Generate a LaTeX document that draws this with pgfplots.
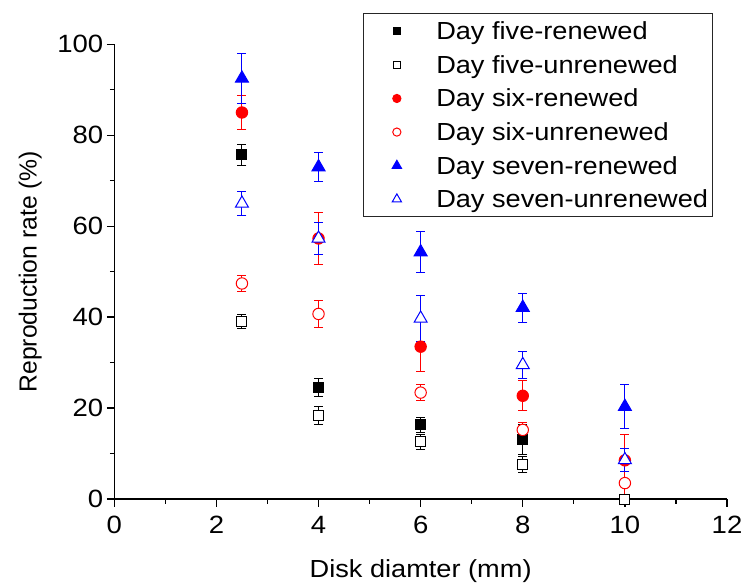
\documentclass[border=0pt]{standalone}
\usepackage{fontspec}
\setmainfont{Liberation Sans}[FakeStretch=1.1]
\newfontfamily\plainsans{Liberation Sans}
\usepackage{pgfplots}
\pgfplotsset{compat=1.18}
\pgfplotsset{
  eb/.style={error bars/.cd, y dir=both, y explicit,
    error bar style={line width=0.9pt},
    error mark options={rotate=90, mark size=4.5pt, line width=0.9pt}},
}
\begin{document}
\begin{tikzpicture}
\begin{axis}[
  scale only axis, width=612.7pt, height=454.7pt,
  xmin=0, xmax=12, ymin=0, ymax=100,
  axis x line*=bottom, axis y line*=left,
  axis line style={line width=1.5pt, black},
  xtick={0,2,...,12}, ytick={0,20,...,100},
  minor x tick num=1, minor y tick num=1,
  tick align=outside,
  major tick length=7.5pt, minor tick length=4.5pt,
  tick style={black, line width=1.3pt},
  /pgf/number format/assume math mode=true,
  tick label style={font=\fontsize{25}{30}\selectfont},
  xticklabel style={yshift=-6pt},
  xlabel={Disk diamter (mm)}, ylabel={Reproduction rate (\%)},
  xlabel style={font=\fontsize{24.7}{30}\selectfont, at={(axis description cs:0.5,-0.173)}, anchor=base},
  ylabel style={font=\plainsans\fontsize{24.7}{30}\selectfont, at={(axis description cs:-0.137,0.5)}, anchor=center},
  legend style={at={(axis description cs:0.406,1.068)}, anchor=north west,
    draw=black!85, line width=0.8pt, fill=white,
    inner xsep=4pt, inner ysep=6pt, row sep=10.6pt, column sep=34pt,
    nodes={inner sep=0pt, text height=20pt, text depth=3pt, font=\fontsize{24.7}{30}\selectfont}},
  legend cell align=left,
  legend image code/.code={\path (-29pt,0pt) (5pt,0pt); \draw[#1, every mark/.append style={scale=0.72}] plot coordinates {(0pt,0pt)};},
]
\addplot[only marks, black, mark=square*, mark size=5pt, mark options={solid, line width=1pt}, eb]
  table[x=x, y=y, y error=e] {
x y e
2.5 75.7 2.3
4 24.5 2.0
6 16.3 1.6
8 13.0 3.3
10 0 0
};
\addlegendentry{Day five-renewed}
\addplot[only marks, black, mark=square*, mark size=5pt, mark options={solid, fill=white, line width=1pt}, eb]
  table[x=x, y=y, y error=e] {
x y e
2.5 39.1 1.5
4 18.3 2.0
6 12.6 1.7
8 7.6 1.8
10 0 0
};
\addlegendentry{Day five-unrenewed}
\addplot[only marks, red, mark=*, mark size=5.7pt, mark options={solid, line width=1pt}, eb]
  table[x=x, y=y, y error=e] {
x y e
2.5 85.0 3.8
4 57.3 5.7
6 33.5 5.5
8 22.7 3.3
10 8.5 5.7
};
\addlegendentry{Day six-renewed}
\addplot[only marks, red, mark=*, mark size=5.7pt, mark options={solid, fill=white, line width=1pt}, eb]
  table[x=x, y=y, y error=e] {
x y e
2.5 47.4 1.7
4 40.7 3.0
6 23.4 1.8
8 15.2 1.7
10 3.5 2.6
};
\addlegendentry{Day six-unrenewed}
\addplot[only marks, blue, mark=triangle*, mark size=7.5pt, mark options={solid, line width=1pt}, eb]
  table[x=x, y=y, y error=e] {
x y e
2.5 92.5 5.5
4 73.0 3.2
6 54.3 4.5
8 42.1 3.2
10 20.3 4.8
};
\addlegendentry{Day seven-renewed}
\addplot[only marks, blue, mark=triangle*, mark size=7.5pt, mark options={solid, fill=white, line width=1pt}, eb]
  table[x=x, y=y, y error=e] {
x y e
2.5 65.0 2.6
4 57.3 3.6
6 39.7 5.0
8 29.5 2.9
10 8.6 2.5
};
\addlegendentry{Day seven-unrenewed}
\coordinate (sw) at (rel axis cs:0,0);
\coordinate (ne) at (rel axis cs:1,1);
\end{axis}
\path ([xshift=-114.3pt,yshift=-87pt]sw) rectangle ([xshift=19pt,yshift=44.3pt]ne);
\end{tikzpicture}
\end{document}
